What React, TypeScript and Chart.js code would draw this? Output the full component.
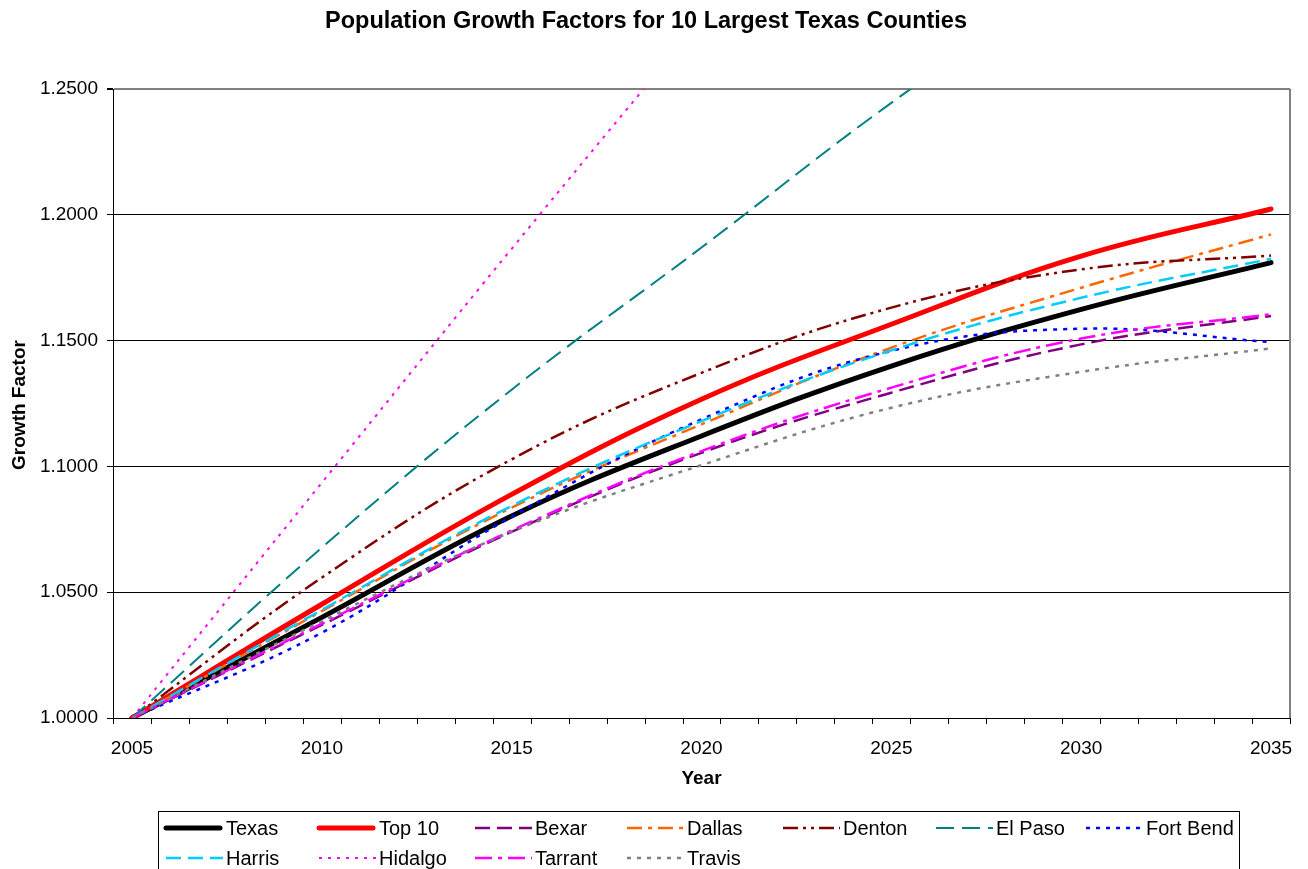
import React, { useEffect, useRef } from 'react';
import { Chart, registerables } from 'chart.js';

Chart.register(...registerables);

// ---------- data ----------
const TITLE = 'Population Growth Factors for 10 Largest Texas Counties';
const X_TITLE = 'Year';
const Y_TITLE = 'Growth Factor';
const YEARS = [2005, 2010, 2015, 2020, 2025, 2030, 2035];
const X_TICK_LABELS = [2005, 2010, 2015, 2020, 2025, 2030, 2035];
const Y_MIN = 1.0;
const Y_MAX = 1.25;
const Y_STEP = 0.05;

const SERIES_NAMES = ['Texas', 'Top 10', 'Bexar', 'Dallas', 'Denton', 'El Paso', 'Fort Bend', 'Harris', 'Hidalgo', 'Tarrant', 'Travis'];
const TEXAS = [1.0, 1.04, 1.0803, 1.1121, 1.1399, 1.1624, 1.181];
const TOP10 = [1.0, 1.0452, 1.0889, 1.1267, 1.1565, 1.1836, 1.2023];
const BEXAR = [1.0, 1.037, 1.074, 1.1054, 1.1293, 1.1485, 1.1598];
const DALLAS = [1.0, 1.0425, 1.0836, 1.1167, 1.1472, 1.171, 1.1922];
const DENTON = [1.0, 1.0558, 1.1028, 1.1372, 1.1631, 1.1783, 1.1838];
const EL_PASO = [1.0, 1.0677, 1.1305, 1.187, 1.2445, 1.296, 1.345];
const FORT_BEND = [1.0, 1.0339, 1.08, 1.1187, 1.1459, 1.1547, 1.1494];
const HARRIS = [1.0, 1.043, 1.0843, 1.118, 1.1461, 1.167, 1.1825];
const HIDALGO = [1.0, 1.0935, 1.1865, 1.2775, 1.367, 1.455, 1.54];
const TARRANT = [1.0, 1.0375, 1.0745, 1.1061, 1.1313, 1.1508, 1.1605];
const TRAVIS = [1.0, 1.0385, 1.074, 1.1005, 1.1233, 1.1376, 1.1469];

const SERIES_VALUES = [TEXAS, TOP10, BEXAR, DALLAS, DENTON, EL_PASO, FORT_BEND, HARRIS, HIDALGO, TARRANT, TRAVIS];

// ---------- styles ----------
const FONT = 'Arial, "Liberation Sans", sans-serif';
type Sty = { color: string; width: number; dash: number[]; cap: CanvasLineCap };
const STYLES: Sty[] = [
  { color: '#000000', width: 5, dash: [], cap: 'round' },
  { color: '#FF0000', width: 5, dash: [], cap: 'round' },
  { color: '#800080', width: 2.5, dash: [15, 7], cap: 'butt' },
  { color: '#FF6600', width: 2.5, dash: [15, 6, 4, 6], cap: 'butt' },
  { color: '#800000', width: 2.5, dash: [15, 5, 3, 5, 3, 5], cap: 'butt' },
  { color: '#008080', width: 2, dash: [18, 8], cap: 'butt' },
  { color: '#0000FF', width: 2.5, dash: [4, 6], cap: 'butt' },
  { color: '#00CCFF', width: 2.5, dash: [15, 7], cap: 'butt' },
  { color: '#FF00FF', width: 2, dash: [3, 6], cap: 'butt' },
  { color: '#FF00FF', width: 2.5, dash: [17, 6, 4, 6], cap: 'butt' },
  { color: '#808080', width: 2.5, dash: [4, 6], cap: 'butt' },
];

const LEGEND_TEXT_X = [226, 379, 535, 687, 843, 996, 1146];

const decorPlugin = {
  id: 'decor',
  afterDraw(chart: any) {
    const { ctx, chartArea: a, scales } = chart;
    const x = scales.x;
    ctx.save();
    // plot border right (gray)
    ctx.strokeStyle = '#808080';
    ctx.lineWidth = 2;
    ctx.beginPath();
    ctx.moveTo(a.right, a.top);
    ctx.lineTo(a.right, a.bottom);
    ctx.stroke();
    // minor tick marks on x axis (category boundaries)
    ctx.strokeStyle = '#000';
    ctx.lineWidth = 1;
    ctx.beginPath();
    for (let yr = YEARS[0] - 0.5; yr <= YEARS[YEARS.length - 1] + 0.51; yr += 1) {
      const px = Math.round(x.getPixelForValue(yr)) + 0.5;
      ctx.moveTo(px, a.bottom);
      ctx.lineTo(px, a.bottom + 6);
    }
    ctx.stroke();

    // titles
    ctx.fillStyle = '#000';
    ctx.textAlign = 'center';
    ctx.textBaseline = 'alphabetic';
    ctx.font = `bold 23.5px ${FONT}`;
    ctx.fillText(TITLE, 646, 28);
    ctx.font = `bold 19px ${FONT}`;
    ctx.fillText(X_TITLE, (a.left + a.right) / 2, 784);
    ctx.save();
    ctx.translate(25, 405);
    ctx.rotate(-Math.PI / 2);
    ctx.fillText(Y_TITLE, 0, 0);
    ctx.restore();

    // legend box
    ctx.strokeStyle = '#000';
    ctx.lineWidth = 1;
    ctx.strokeRect(158.5, 811.5, 1081, 80);

    ctx.font = `20px ${FONT}`;
    ctx.textAlign = 'left';
    SERIES_NAMES.forEach((name, i) => {
      const row = i < 7 ? 0 : 1;
      const col = i < 7 ? i : i - 7;
      const tx = LEGEND_TEXT_X[col];
      const cy = row === 0 ? 828 : 858;
      const s = STYLES[i];
      ctx.save();
      ctx.strokeStyle = s.color;
      ctx.lineWidth = s.width;
      ctx.lineCap = s.cap;
      ctx.setLineDash(s.dash);
      ctx.beginPath();
      ctx.moveTo(tx - 60, cy);
      ctx.lineTo(tx - (s.cap === 'round' ? 6 : 3), cy);
      ctx.stroke();
      ctx.restore();
      ctx.fillStyle = '#000';
      ctx.fillText(name, tx, cy + 7);
    });
    ctx.restore();
  },
};

export default function App() {
  const ref = useRef<HTMLCanvasElement | null>(null);
  useEffect(() => {
    if (!ref.current) return;
    const datasets = SERIES_NAMES.map((name, i) => ({
      label: name,
      data: YEARS.map((yr, j) => ({ x: yr, y: SERIES_VALUES[i][j] })),
      borderColor: STYLES[i].color,
      backgroundColor: STYLES[i].color,
      borderWidth: STYLES[i].width,
      borderDash: STYLES[i].dash,
      borderCapStyle: STYLES[i].cap,
      pointRadius: 0,
      tension: 0.4,
      fill: false,
      order: SERIES_NAMES.length - i,
    }));
    const chart = new Chart(ref.current, {
      type: 'line',
      data: { datasets },
      plugins: [decorPlugin],
      options: {
        responsive: false,
        animation: false,
        layout: { padding: { top: 89, right: 18, left: 0, bottom: 0 } },
        plugins: { legend: { display: false }, title: { display: false }, tooltip: { enabled: false } },
        scales: {
          x: {
            type: 'linear',
            min: YEARS[0] - 0.5,
            max: YEARS[YEARS.length - 1] + 0.5,
            afterBuildTicks: (scale: any) => {
              scale.ticks = X_TICK_LABELS.map((v) => ({ value: v }));
            },
            afterFit: (scale: any) => {
              scale.height = 151;
              scale.paddingLeft = 0;
              scale.paddingRight = 0;
            },
            grid: { display: false, drawTicks: false },
            border: { display: true, color: '#000', width: 1 },
            ticks: {
              color: '#000',
              font: { family: FONT, size: 19 },
              padding: 19,
              maxRotation: 0,
              autoSkip: false,
              callback: (v: any) => String(v),
            },
          },
          y: {
            min: Y_MIN,
            max: Y_MAX,
            afterFit: (scale: any) => {
              scale.width = 113;
              scale.paddingTop = 0;
              scale.paddingBottom = 0;
            },
            ticks: {
              stepSize: Y_STEP,
              color: '#000',
              font: { family: FONT, size: 19 },
              padding: 9,
              callback: (v: any) => Number(v).toFixed(4),
            },
            grid: {
              color: (c: any) => (c.tick && Math.abs(c.tick.value - Y_MAX) < 1e-9 ? '#808080' : '#000'),
              lineWidth: (c: any) => (c.tick && Math.abs(c.tick.value - Y_MAX) < 1e-9 ? 2 : 1),
              tickColor: '#000',
              tickLength: 6,
              drawTicks: true,
            },
            border: { display: true, color: '#000', width: 1 },
          },
        },
      } as any,
    });
    return () => chart.destroy();
  }, []);
  return (
    <div style={{ position: 'absolute', left: 0, top: 0, width: 1308, height: 869, background: '#fff' }}>
      <canvas ref={ref} width={1308} height={869} style={{ display: 'block' }} />
    </div>
  );
}
